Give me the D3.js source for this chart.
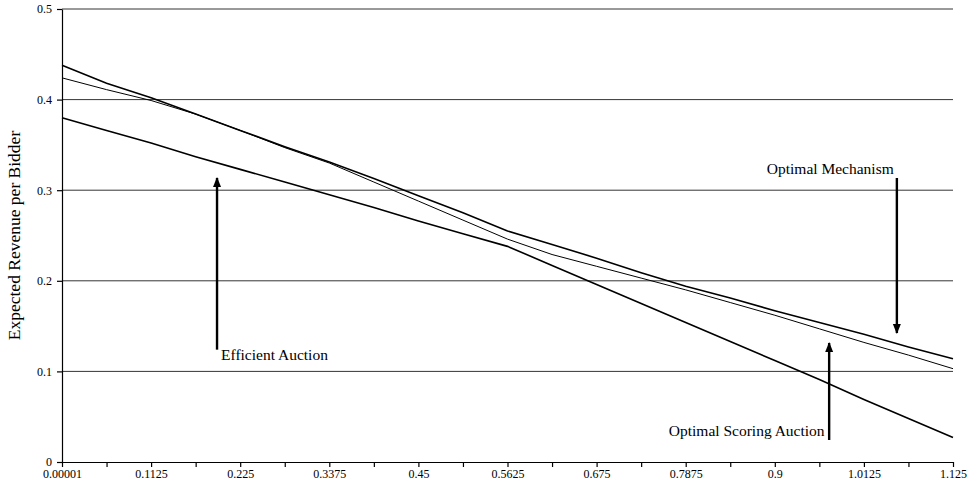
<!DOCTYPE html>
<html>
<head>
<meta charset="utf-8">
<script src="https://cdn.jsdelivr.net/npm/d3@7"></script>
<style>
  body { margin: 0; background: #fff; }
  svg { display: block; font-family: "Liberation Serif", "Times New Roman", serif; }
</style>
</head>
<body>
<svg id="container" width="972" height="495"></svg>
<script>
// data
var categories = ["0.00001","0.05625","0.1125","0.16875","0.225","0.28125","0.3375","0.39375","0.45","0.50625",
  "0.5625","0.61875","0.675","0.73125","0.7875","0.84375","0.9","0.95625","1.0125","1.06875","1.125"];
var yTicks = [0, 0.1, 0.2, 0.3, 0.4, 0.5];

var optimalMechanism = [0.438, 0.418, 0.402, 0.384, 0.366, 0.348, 0.331, 0.313, 0.294, 0.275,
  0.255, 0.240, 0.225, 0.209, 0.194, 0.181, 0.167, 0.154, 0.141, 0.127, 0.114];
var optimalScoring = [0.424, 0.411, 0.399, 0.384, 0.366, 0.347, 0.330, 0.309, 0.288, 0.267,
  0.246, 0.229, 0.216, 0.203, 0.190, 0.176, 0.162, 0.147, 0.132, 0.118, 0.103];
var efficientAuction = [0.380, 0.366, 0.352, 0.337, 0.323, 0.309, 0.295, 0.281, 0.266, 0.252,
  0.238, 0.217, 0.196, 0.175, 0.154, 0.133, 0.112, 0.091, 0.069, 0.048, 0.027];

// annotations, positions in category index / value units
var notes = [
  {text: "Efficient Auction", tx: 3.57, ty: 0.113, ax: 3.48, y0: 0.124, y1: 0.3135},
  {text: "Optimal Mechanism", tx: 15.82, ty: 0.318, ax: 18.74, y0: 0.3135, y1: 0.1424},
  {text: "Optimal Scoring Auction", tx: 13.62, ty: 0.0287, ax: 17.22, y0: 0.0243, y1: 0.1313}
];

var margin = {top: 9, right: 19, bottom: 33, left: 62};
var svg = d3.select('#container');
var innerWidth = +svg.attr('width') - margin.left - margin.right;
var innerHeight = +svg.attr('height') - margin.top - margin.bottom;

var x = d3.scalePoint().domain(categories).range([0, innerWidth]);
var xi = d3.scaleLinear().domain([0, categories.length - 1]).range([0, innerWidth]); //for annotations
var y = d3.scaleLinear().domain([0, 0.5]).range([innerHeight, 0]);

var chart = svg.append('g')
    .attr('transform', `translate(${margin.left}, ${margin.top})`);

//arrow head
svg.append('defs').append('marker')
    .attr('id', 'head')
    .attr('markerUnits', 'userSpaceOnUse')
    .attr('viewBox', '0 0 10 10')
    .attr('refX', 9).attr('refY', 5)
    .attr('markerWidth', 10).attr('markerHeight', 10)
    .attr('orient', 'auto')
  .append('path')
    .attr('d', 'M0,1 L10,5 L0,9 Z')
    .attr('fill', '#000');

//gridlines
chart.append('g')
  .selectAll('line')
    .data(yTicks.slice(1))
  .enter().append('line')
    .attr('x1', 0).attr('x2', innerWidth)
    .attr('y1', d => y(d)).attr('y2', d => y(d))
    .attr('stroke', '#000')
    .attr('stroke-width', 0.8);

//axes
var xAxis = chart.append('g')
    .attr('transform', `translate(0, ${innerHeight})`)
    .call(d3.axisBottom(x).tickSize(5).tickPadding(2).tickSizeOuter(0)
      .tickFormat((d, i) => i % 2 === 0 ? d : ''));
var yAxis = chart.append('g')
    .call(d3.axisLeft(y).tickValues(yTicks).tickSize(5).tickPadding(5).tickSizeOuter(0)
      .tickFormat(d => String(d)));

[xAxis, yAxis].forEach(function(a){
  a.attr('font-family', null).attr('font-size', null);
  a.selectAll('text').style('font-size', '12px').attr('fill', '#000');
  a.selectAll('line, path').attr('stroke', '#000').attr('stroke-width', 1.2);
});

//y axis title
chart.append('text')
    .attr('text-anchor', 'middle')
    .attr('transform', 'rotate(-90)')
    .attr('x', -innerHeight/2)
    .attr('y', -42)
    .style('font-size', '17.5px')
    .text('Expected Revenue per Bidder');

//series
var line = d3.line().x((d, i) => x(categories[i])).y(d => y(d));
[[optimalMechanism, 1.6], [optimalScoring, 1.0], [efficientAuction, 1.6]].forEach(function(s){
  chart.append('path')
      .datum(s[0])
      .attr('d', line)
      .attr('fill', 'none')
      .attr('stroke', '#000')
      .attr('stroke-width', s[1]);
});

//annotations
var ann = chart.append('g');
ann.selectAll('text')
    .data(notes)
  .enter().append('text')
    .attr('x', d => xi(d.tx))
    .attr('y', d => y(d.ty))
    .style('font-size', '15.5px')
    .text(d => d.text);
ann.selectAll('line')
    .data(notes)
  .enter().append('line')
    .attr('x1', d => xi(d.ax)).attr('x2', d => xi(d.ax))
    .attr('y1', d => y(d.y0)).attr('y2', d => y(d.y1))
    .attr('stroke', '#000')
    .attr('stroke-width', 2.4)
    .attr('marker-end', 'url(#head)');
</script>
</body>
</html>
